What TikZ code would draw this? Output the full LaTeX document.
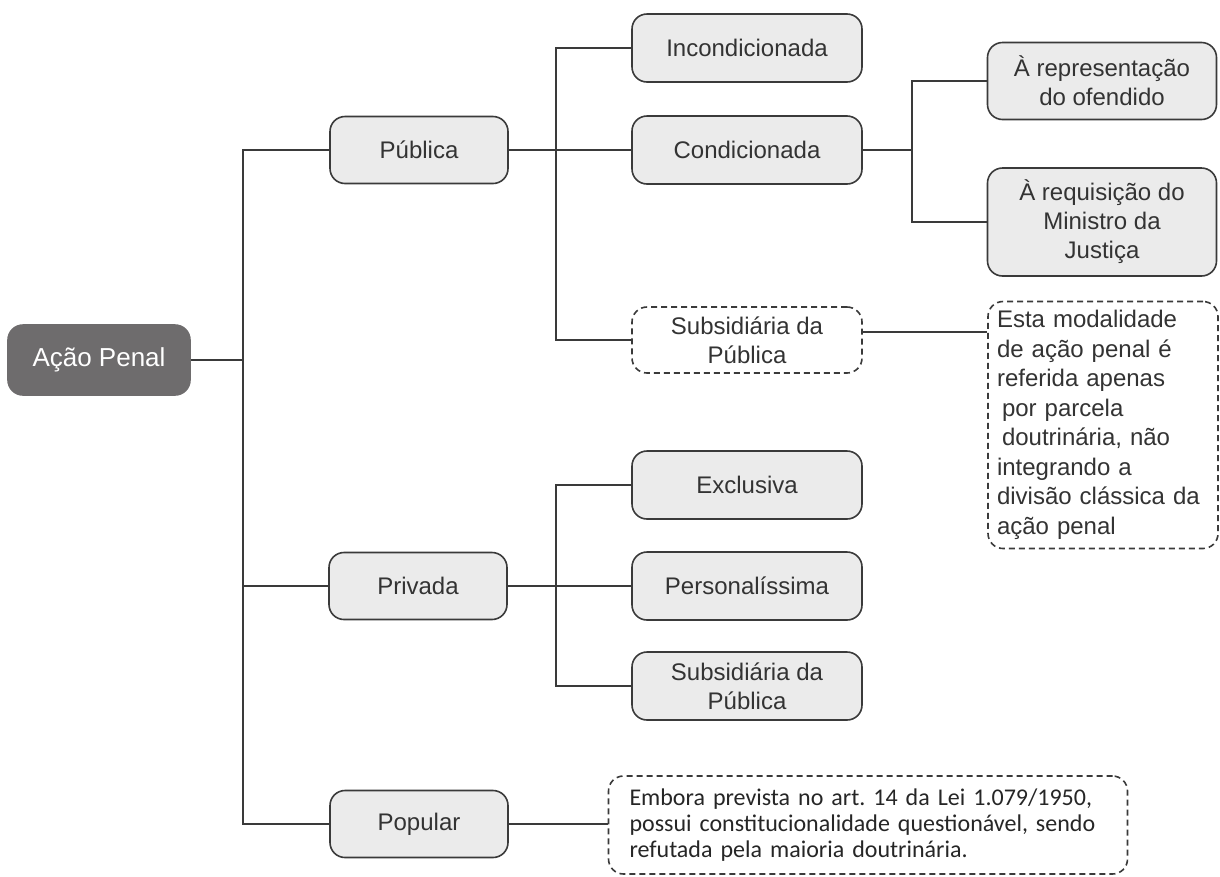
\documentclass[tikz,border=0pt]{standalone}
\usepackage{fontspec}
\setmainfont{Liberation Sans}
\newfontfamily\notefont{Carlito}
\usetikzlibrary{calc}
\definecolor{boxfill}{HTML}{EBEBEB}
\definecolor{boxline}{HTML}{3A3A3A}
\definecolor{rootfill}{HTML}{6E6C6D}
\definecolor{textgray}{HTML}{333333}

\tikzset{
  box/.style={draw=boxline, fill=boxfill, line width=1.6pt, rounded corners=15pt,
    minimum width=230pt, minimum height=68pt, align=center, text=textgray,
    font=\fontsize{24}{29}\selectfont},
  rootbox/.style={box, draw=rootfill, fill=rootfill, text=white,
    minimum width=182pt, minimum height=70pt, font=\fontsize{26}{30}\selectfont},
  midbox/.style={box, minimum width=178pt, minimum height=67pt},
  dashbox/.style={box, fill=white, dash pattern=on 6pt off 4pt},
  link/.style={draw=boxline, line width=1.5pt}
}

\begin{document}
\begin{tikzpicture}[x=1pt, y=-1pt]

  \useasboundingbox (0,0) rectangle (1220,876);

  % Root
  \node[rootbox] (ap) at (99,360) {Ação Penal};

  % First level
  \node[midbox] (pub) at (419,150) {Pública};
  \node[midbox] (priv) at (418,586) {Privada};
  \node[midbox] (pop) at (419,824) {Popular};

  % Pública
  \node[box] (inc) at (747,48) {Incondicionada};
  \node[box] (cond) at (747,150) {Condicionada};
  \node[dashbox, minimum height=66pt] (subpub) at (747,340) {Subsidiária da\\Pública};

  % Condicionada
  \node[box, minimum width=229pt, minimum height=77pt] (rep) at (1102,81)
    {À representação\\do ofendido};
  \node[box, minimum width=229pt, minimum height=108pt] (req) at (1102,222)
    {À requisição do\\Ministro da\\Justiça};

  % Note on Subsidiária da Pública
  \node[dashbox, align=left, text width=212pt, inner xsep=9pt, minimum height=247pt,
    font=\fontsize{24}{29.5}\selectfont] (notesub) at (1103,425)
    {Esta modalidade\\de ação penal é\\referida apenas\\\hspace*{5pt}por parcela\\
     \hspace*{5pt}doutrinária, não\\integrando a\\divisão clássica da\\ação penal};

  % Privada
  \node[box] (exc) at (747,485) {Exclusiva};
  \node[box] (pers) at (747,586) {Personalíssima};
  \node[box] (subpriv) at (747,686) {Subsidiária da\\Pública};

  % Note on Popular
  \node[dashbox, align=left, text width=477pt, inner xsep=21pt, minimum height=98pt,
    text=black!85, font=\notefont\fontsize{24}{26}\selectfont] (notepop) at (868,825)
    {Embora prevista no art.\ 14 da Lei 1.079/1950,\\
     possui constitucionalidade questionável, sendo\\
     refutada pela maioria doutrinária.};

  % Branch points
  \coordinate (trunk) at (243,0);
  \coordinate (pubbr) at (556,0);
  \coordinate (condbr) at (912,0);
  \coordinate (privbr) at (556,0);

  % Connectors
  \draw[link] (pub.west) -| (trunk |- pop.west) -- (pop.west);
  \draw[link] (ap.east) -- (ap.east -| trunk);
  \draw[link] (priv.west) -- (priv.west -| trunk);

  \draw[link] (inc.west) -| (pubbr |- subpub.west) -- (subpub.west);
  \draw[link] (pub.east) -- (cond.west);

  \draw[link] (rep.west) -| (condbr |- req.west) -- (req.west);
  \draw[link] (cond.east) -- (cond.east -| condbr);

  \draw[link] (exc.west) -| (privbr |- subpriv.west) -- (subpriv.west);
  \draw[link] (priv.east) -- (pers.west);

  \draw[link] ([yshift=8pt]subpub.east) -- ([yshift=8pt]subpub.east -| notesub.west);
  \draw[link] (pop.east) -- (pop.east -| notepop.west);

\end{tikzpicture}
\end{document}
